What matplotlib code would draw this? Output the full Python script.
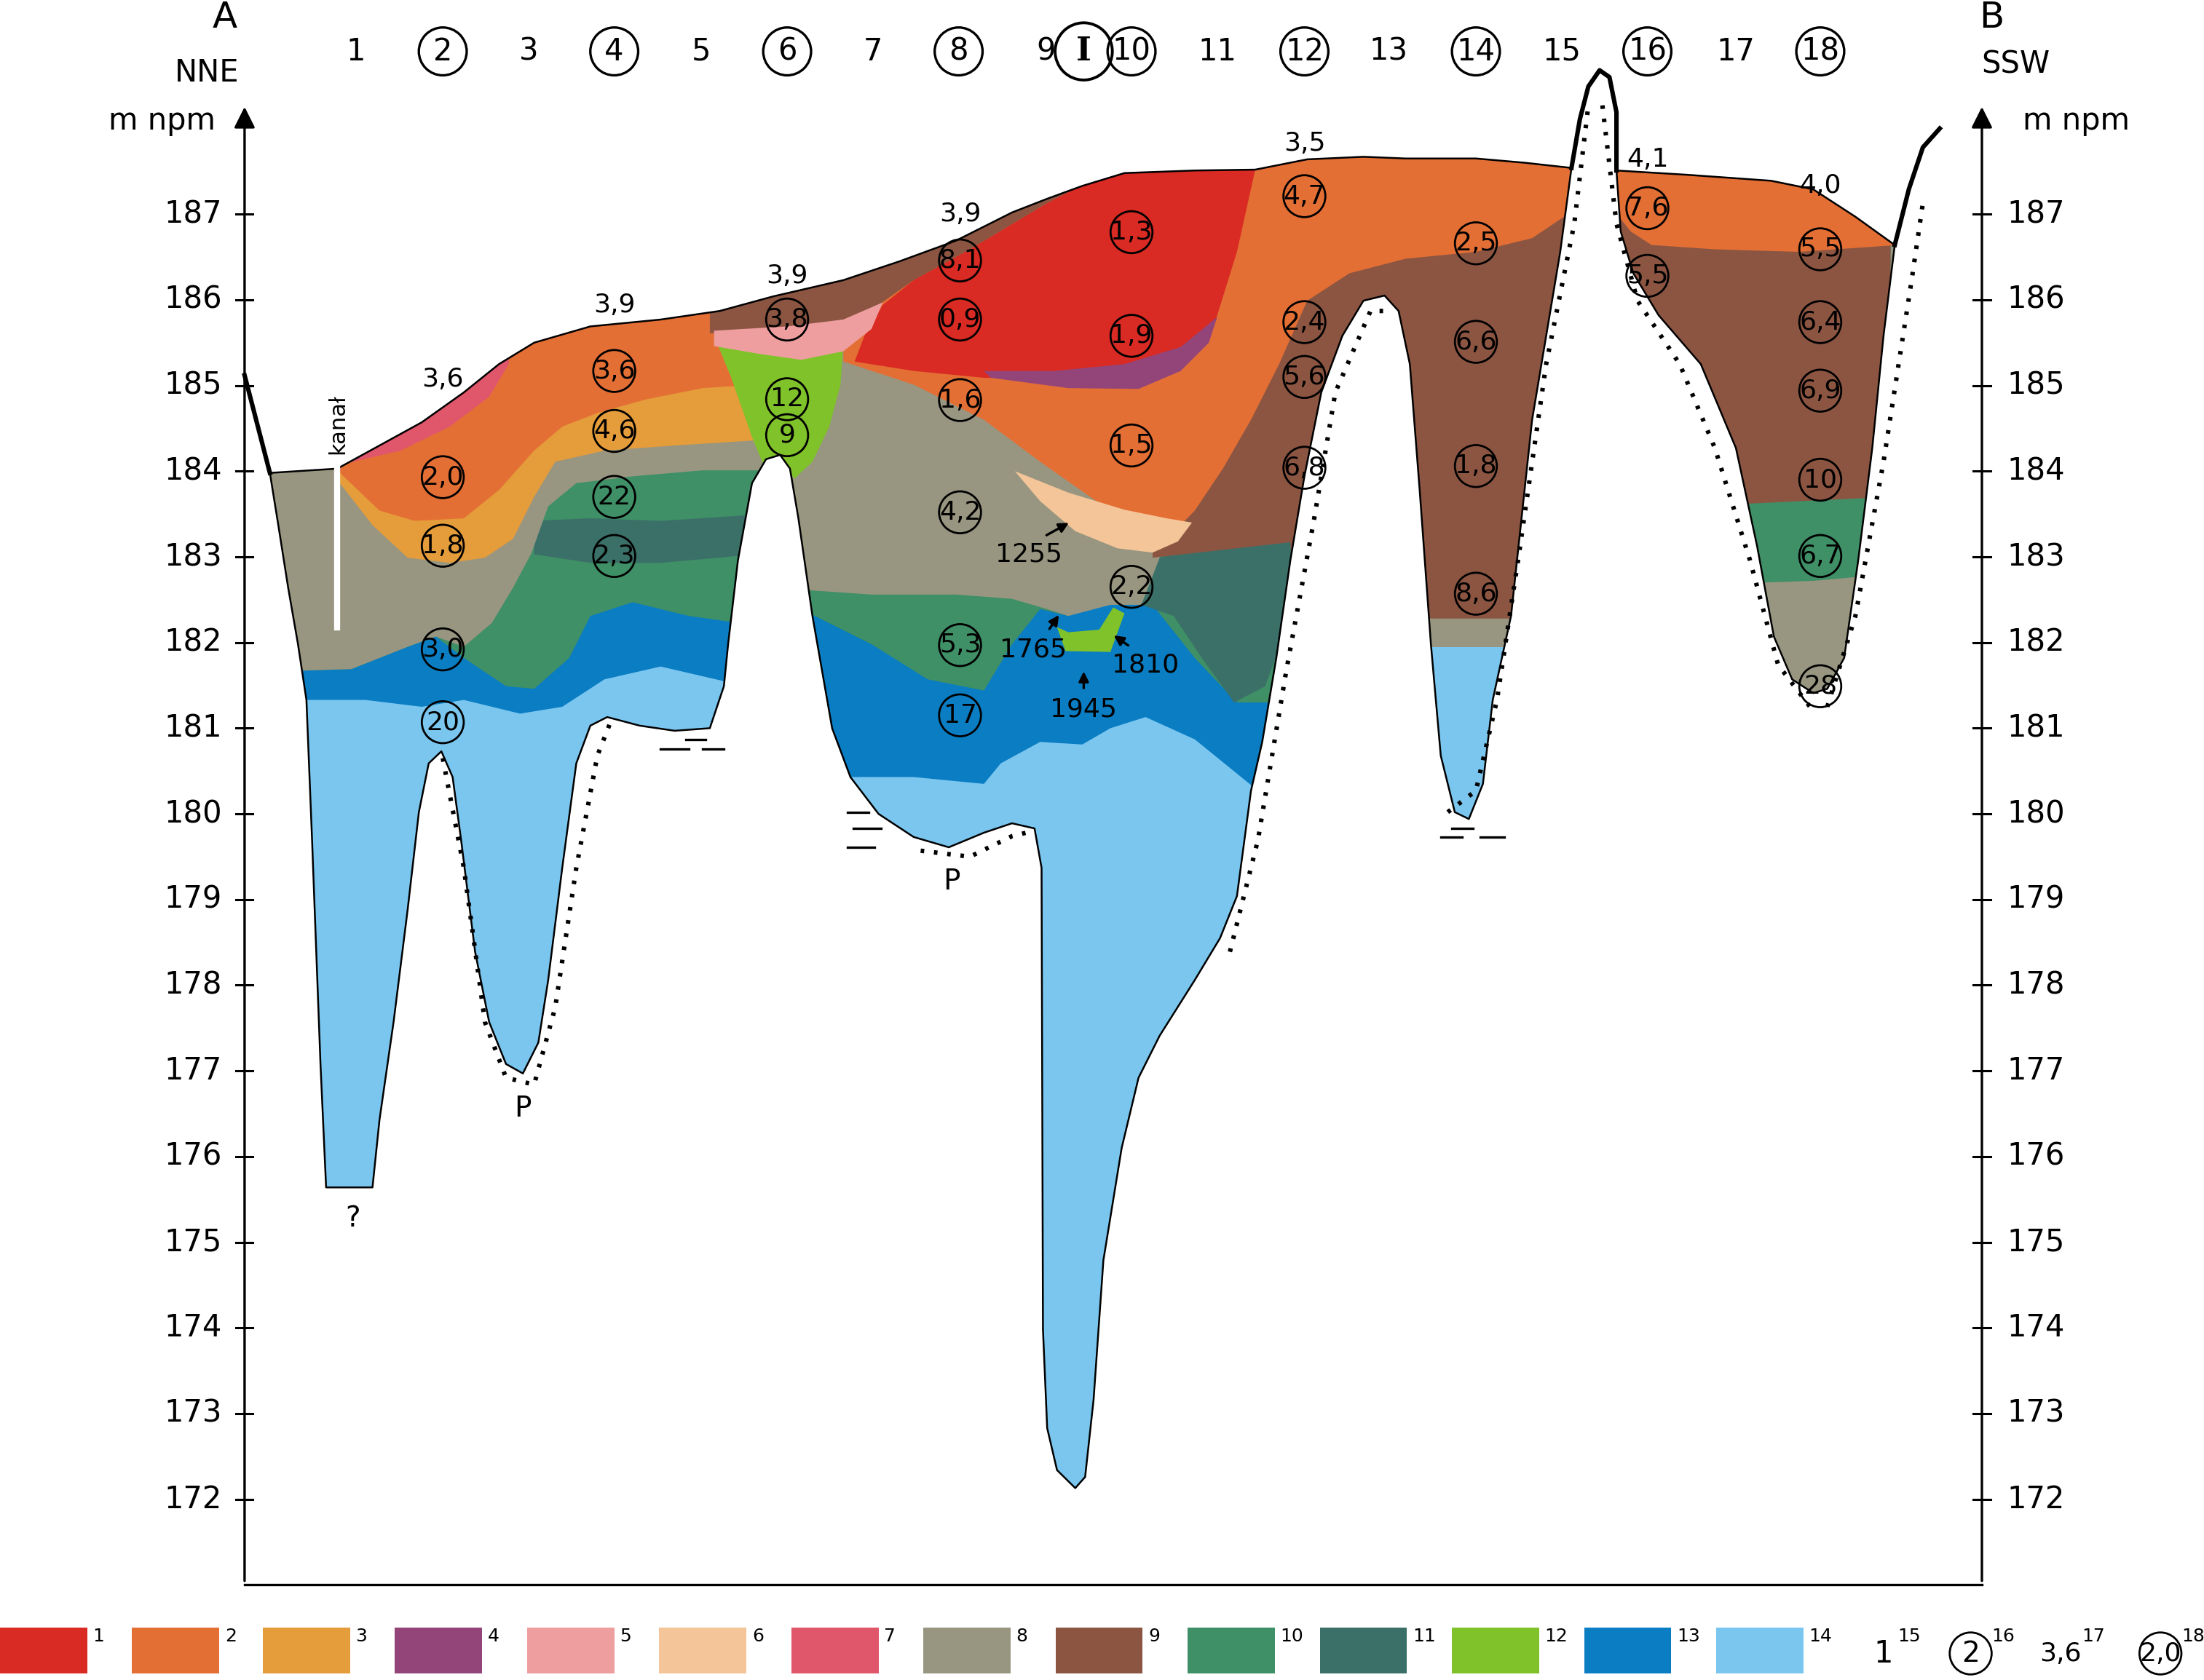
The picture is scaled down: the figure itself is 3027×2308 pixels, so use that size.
import matplotlib
matplotlib.use("Agg")
import matplotlib.pyplot as plt
from matplotlib.path import Path
from matplotlib.patches import Polygon, PathPatch

# ---------------- DATA (distance units, elevation m npm) ----------------
TOP = 189.5
outline_A = [(192,183.98),(240,184.03),(270,184.30),(300,184.57),(330,184.92),(355,185.25),(380,185.50),
 (420,185.69),(470,185.77),(512,185.87),(550,186.04),(600,186.23),(640,186.45),(680,186.69),(720,187.02),
 (745,187.18),(770,187.33),(800,187.48),(850,187.51),(893,187.52),(930,187.64),(970,187.67),(1000,187.65),
 (1050,187.65),(1085,187.60),(1118,187.54),
 (1110,186.56),(1090,184.60),(1075,182.31),(1062,181.33),(1055,180.35),(1045,179.94),(1035,180.02),
 (1025,180.68),(1018,181.98),(1010,183.78),(1003,185.25),(995,185.87),(985,186.05),(970,185.99),
 (955,185.58),(940,184.92),(928,183.94),(918,182.96),(908,181.82),(898,180.84),(890,180.27),(880,179.04),
 (868,178.55),(850,178.06),(825,177.41),(810,176.92),(798,176.10),(785,174.79),(778,173.16),(772,172.26),
 (765,172.13),(752,172.34),(745,172.83),(742,173.98),(741,179.37),(736,179.83),(720,179.89),(700,179.78),
 (675,179.61),(650,179.73),(625,180.00),(605,180.43),(592,181.00),(578,182.31),(568,183.45),(562,184.03),
 (555,184.19),(545,184.14),(535,183.86),(525,182.96),(518,181.98),(515,181.49),(505,181.00),(480,180.97),
 (455,181.03),(432,181.13),(420,181.03),(410,180.59),(400,179.37),(390,178.06),(383,177.33),(372,176.97),
 (360,177.08),(348,177.57),(338,178.39),(328,179.70),(322,180.43),(314,180.73),(305,180.59),(298,180.02),
 (290,178.88),(280,177.57),(270,176.43),(265,175.64),(232,175.64),(228,177.08),(222,179.70),(218,181.33),
 (212,181.98),(205,182.64),(198,183.37)]
outline_B = [(1150,187.51),(1200,187.46),(1260,187.39),(1290,187.29),(1320,186.97),(1348,186.64),
 (1340,185.58),(1332,184.27),(1322,182.96),(1312,181.82),(1300,181.46),(1290,181.41),(1275,181.57),
 (1262,182.07),(1250,183.13),(1235,184.27),(1210,185.25),(1180,185.82),(1162,186.31),(1153,186.80)]
peak15 = [(1118,187.54),(1124,188.11),(1130,188.49),(1138,188.68),(1145,188.60),(1150,188.19),(1150,187.51)]
right_edge = [(1348,186.64),(1358,187.29),(1368,187.78),(1380,188.00)]
left_edge = [(174,185.12),(192,183.98)]

dotted = [
 [(315,180.65),(330,179.37),(345,177.57),(360,176.92),(380,176.84),(395,177.74),(410,179.37),(425,180.68),(435,181.10)],
 [(655,179.57),(690,179.50),(720,179.74),(735,179.80)],
 [(875,178.39),(895,179.70),(915,181.66),(935,183.45),(950,184.92),(975,185.87),(990,185.87)],
 [(1030,180.02),(1050,180.27),(1065,181.33),(1080,182.96),(1100,185.25),(1120,186.89),(1130,188.27)],
 [(1140,188.27),(1150,186.89),(1165,185.99),(1195,185.25),(1220,184.27),(1245,182.96),(1265,181.74),(1290,181.20)],
 [(1300,181.25),(1320,182.31),(1340,184.11),(1360,186.23),(1368,187.13)]]

water = [[(470,180.76),(490,180.76)],[(488,180.87),(502,180.87)],[(500,180.76),(515,180.76)],
 [(603,180.02),(618,180.02)],[(607,179.83),(627,179.83)],[(603,179.61),(622,179.61)],
 [(1033,179.83),(1048,179.83)],[(1025,179.73),(1040,179.73)],[(1053,179.73),(1070,179.73)]]

def above(base):
    return base + [(base[-1][0], TOP), (base[0][0], TOP)]

C = {1:"#d92a23",2:"#e46f35",3:"#e59c3a",4:"#93457a",5:"#ef9ea0",6:"#f4c598",7:"#e0566b",
     8:"#989680",9:"#8b5542",10:"#3f8f67",11:"#3b7068",12:"#80c22a",13:"#0a7dc3",14:"#7ac6ef"}

blue_left = above([(190,181.33),(260,181.33),(300,181.25),(330,181.33),(370,181.17),(400,181.25),(430,181.57),(470,181.72),(520,181.53),(545,181.53)])
blue_mid = above([(570,180.43),(600,180.43),(650,180.43),(700,180.35),(712,180.59),(740,180.84),(770,180.81),(790,181.00),(815,181.13),(850,180.87),(895,180.27),(925,180.27)])
green_left = above([(190,181.66),(250,181.69),(290,181.95),(310,182.07),(330,181.82),(360,181.49),(380,181.46),(405,181.82),(420,182.31),(450,182.47),(490,182.31),(525,182.23),(545,182.23)])
green_mid = above([(570,182.39),(620,181.98),(660,181.57),(700,181.44),(720,181.98),(740,182.39),(760,182.31),(790,182.47),(820,182.44),(850,181.82),(880,181.30),(925,181.30)])
teal_left = [(380,183.42),(420,183.45),(470,183.42),(545,183.50),(545,183.04),(470,182.93),(420,182.93),(380,183.03)]
teal_mid = [(812,182.44),(825,182.99),(860,183.13),(925,183.24),(915,182.15),(900,181.49),(878,181.30),(855,181.82),(835,182.31)]
grey_left = above([(190,181.66),(250,181.69),(290,181.95),(310,182.07),(330,181.95),(350,182.23),(365,182.64),(378,183.04),(390,183.59),(410,183.86),(450,183.94),(500,184.01),(548,184.01)])
grey_mid = above([(550,182.64),(620,182.56),(680,182.56),(720,182.51),(745,182.39),(760,182.31),(790,182.44),(812,182.44),(825,182.99)])
grey_b14 = above([(1008,181.95),(1082,181.95)])
grey_b18 = outline_B
green_b18 = above([(1140,182.64),(1290,182.72),(1345,182.80)])
yellow_left = above([(238,183.94),(265,183.37),(290,182.99),(320,182.93),(345,182.99),(365,183.21),(380,183.70),(395,184.11),(430,184.24),(480,184.30),(548,184.37)])
brown_right = above([(820,182.99),(918,183.17),(940,177.0),(1010,177.0),(1012,182.28),(1045,182.28),(1082,182.28),(1082,177.0),(1125,177.0)])
brown_b18 = above([(1140,183.54),(1345,183.70)])
orange_left = above([(238,184.04),(270,183.54),(295,183.42),(330,183.45),(355,183.78),(380,184.24),(400,184.52),(425,184.68),(460,184.84),(500,184.97),(548,185.02)])
orange_mid = above([(600,185.28),(650,185.01),(700,184.60),(740,184.11),(780,183.65),(810,183.42),(835,183.29),(850,183.54),(870,184.03),(890,184.60),(910,185.25),(930,185.99),(960,186.31),(1000,186.48),(1050,186.56),(1090,186.72),(1120,187.05)])
orange_b18 = above([(1148,187.05),(1160,186.80),(1175,186.64),(1220,186.59),(1280,186.56),(1350,186.64)])
red = [(608,185.28),(615,185.58),(628,185.94),(650,186.23),(690,186.59),(745,187.13),(770,187.34),(770,TOP),
       (893,TOP),(893,187.52),(880,186.56),(865,185.77),(840,185.33),(800,185.12),(750,185.09),(700,185.09),(650,185.17)]
brown_strip = above([(505,185.61),(560,185.67),(600,185.77),(625,185.94),(650,186.23),(690,186.59),(745,187.13),(770,187.34)])
purple = [(700,185.17),(750,185.17),(800,185.25),(840,185.45),(866,185.80),(860,185.50),(840,185.17),(810,184.96),(760,184.97),(705,185.09)]
lime6 = [(508,185.58),(540,185.50),(570,185.41),(600,185.50),(598,185.01),(590,184.52),(578,184.11),(565,183.91),(555,184.17),(545,184.00),(535,184.40),(520,185.10)]
pink5 = [(508,185.64),(560,185.69),(600,185.77),(628,185.97),(620,185.66),(600,185.40),(570,185.30),(540,185.37),(508,185.46)]
peach = [(722,184.00),(760,183.75),(800,183.55),(830,183.45),(848,183.40),(838,183.18),(820,183.05),(795,183.10),(765,183.30),(740,183.65)]
pink7 = above([(238,184.06),(285,184.24),(320,184.52),(348,184.87),(362,185.25)])
lime_small = [(752,182.18),(758,181.90),(790,181.89),(800,182.34),(792,182.41),(782,182.15),(760,182.12)]

layers = [(13,blue_left),(13,blue_mid),(10,green_left),(10,green_mid),(11,teal_left),(11,teal_mid),
 (8,grey_left),(8,grey_mid),(8,grey_b14),(8,grey_b18),(10,green_b18),(3,yellow_left),(9,brown_right),
 (9,brown_b18),(2,orange_left),(2,orange_mid),(2,orange_b18),(1,red),(9,brown_strip),(4,purple),
 (12,lime6),(5,pink5),(6,peach),(7,pink7),(12,lime_small)]

boreholes = ["1","2","3","4","5","6","7","8","9","10","11","12","13","14","15","16","17","18"]
bh_x = [253,315,376,437,499,560,621,682,744,805,866,928,988,1050,1111,1172,1235,1295]
bh_circled = [False,True]*9

circ_labels = [
 (315,183.93,"2,0"),(315,183.13,"1,8"),(315,181.92,"3,0"),(315,181.07,"20"),
 (437,185.17,"3,6"),(437,184.47,"4,6"),(437,183.70,"22"),(437,183.01,"2,3"),
 (560,185.77,"3,8"),(560,184.84,"12"),(560,184.42,"9"),
 (683,186.46,"8,1"),(683,185.77,"0,9"),(683,184.83,"1,6"),(683,183.52,"4,2"),(683,181.97,"5,3"),(683,181.15,"17"),
 (805,186.79,"1,3"),(805,185.58,"1,9"),(805,184.30,"1,5"),(805,182.65,"2,2"),
 (928,187.21,"4,7"),(928,185.74,"2,4"),(928,185.10,"5,6"),(928,184.04,"6,8"),
 (1050,186.66,"2,5"),(1050,185.51,"6,6"),(1050,184.06,"1,8"),(1050,182.57,"8,6"),
 (1172,187.07,"7,6"),(1172,186.28,"5,5"),
 (1295,186.59,"5,5"),(1295,185.74,"6,4"),(1295,184.94,"6,9"),(1295,183.90,"10"),(1295,183.01,"6,7"),(1295,181.49,"28")]
thick_labels = [(315,185.07,"3,6"),(437,185.94,"3,9"),(560,186.28,"3,9"),(683,187.00,"3,9"),
 (928,187.83,"3,5"),(1172,187.64,"4,1"),(1295,187.33,"4,0")]
dates = [("1255",732,183.03,763,183.42),("1765",735,181.92,755,182.36),("1810",815,181.74,790,182.11),("1945",771,181.22,771,181.71)]

elev_ticks = list(range(172,188))
legend_ids = list(range(1,15))
legend_x = [0,94,187,281,375,469,563,657,751,845,939,1033,1127,1221]

# ---------------- PLOT ----------------
fig = plt.figure(figsize=(15.135,11.54), dpi=200)
ax = fig.add_axes([0,0,1,1])
ax.set_xlim(0,1568); ax.set_ylim(169.89,189.5); ax.axis("off")

clip = Path.make_compound_path(Path(outline_A+[outline_A[0]], closed=True), Path(outline_B+[outline_B[0]], closed=True))
base = PathPatch(clip, facecolor=C[14], edgecolor="none", zorder=1)
ax.add_patch(base)
for cid, poly in layers:
    p = Polygon(poly, closed=True, facecolor=C[cid], edgecolor="none", zorder=2)
    ax.add_patch(p); p.set_clip_path(base)

for ol in (outline_A, outline_B):
    xs=[p[0] for p in ol]+[ol[0][0]]; ys=[p[1] for p in ol]+[ol[0][1]]
    ax.plot(xs, ys, color="black", lw=0.9, zorder=4)
for ln, lw in ((peak15,2.2),(right_edge,2.2),(left_edge,2.2)):
    ax.plot([p[0] for p in ln],[p[1] for p in ln],color="black",lw=lw,zorder=4)
for d in dotted:
    ax.plot([p[0] for p in d],[p[1] for p in d],color="black",lw=2.2,ls=(0,(0.8,2.2)),zorder=4)
for w in water:
    ax.plot([p[0] for p in w],[p[1] for p in w],color="black",lw=1.2,zorder=4)

ax.plot([240,240],[184.08,182.18],color="white",lw=3,zorder=5)
ax.text(240,184.55,"kanał",rotation=90,ha="center",va="center",fontsize=11,zorder=6)

fs=13
for x,y,t in circ_labels:
    ax.scatter([x],[y],s=430,facecolors="none",edgecolors="black",linewidths=1.0,zorder=6)
    ax.text(x,y,t,ha="center",va="center",fontsize=fs,zorder=7)
for x,y,t in thick_labels:
    ax.text(x,y,t,ha="center",va="center",fontsize=fs,zorder=7)
for t,x,y,ax2,ay2 in dates:
    ax.annotate("",xy=(ax2,ay2),xytext=(x+ (10 if ax2>x else (-10 if ax2<x else 0)), y+0.2),
                arrowprops=dict(arrowstyle="-|>",color="black",lw=1.2),zorder=7)
    ax.text(x,y,t,ha="center",va="center",fontsize=fs,zorder=7)
for x,y,t in [(372,176.56,"P"),(677,179.21,"P"),(251,175.28,"?")]:
    ax.text(x,y,t,ha="center",va="center",fontsize=fs+1,zorder=7)

for x,t,c in zip(bh_x,boreholes,bh_circled):
    ax.text(x,188.90,t,ha="center",va="center",fontsize=15)
    if c:
        ax.scatter([x],[188.90],s=560,facecolors="none",edgecolors="black",linewidths=1.2)
ax.text(771,188.90,"I",ha="center",va="center",fontsize=16,fontweight="bold",family="DejaVu Serif")
ax.scatter([771],[188.90],s=800,facecolors="none",edgecolors="black",linewidths=1.4)

for xa in (174,1410):
    ax.annotate("",xy=(xa,188.30),xytext=(xa,171.0),arrowprops=dict(arrowstyle="-|>",color="black",lw=1.2,mutation_scale=22))
ax.plot([174,1410],[171.0,171.0],color="black",lw=1.2)
for e in elev_ticks:
    ax.plot([168,180],[e,e],color="black",lw=1.1)
    ax.plot([1404,1416],[e,e],color="black",lw=1.1)
    ax.text(158,e,str(e),ha="right",va="center",fontsize=15)
    ax.text(1428,e,str(e),ha="left",va="center",fontsize=15)
ax.text(160,189.30,"A",ha="center",va="center",fontsize=18)
ax.text(147,188.65,"NNE",ha="center",va="center",fontsize=15)
ax.text(115,188.09,"m npm",ha="center",va="center",fontsize=15)
ax.text(1417,189.30,"B",ha="center",va="center",fontsize=18)
ax.text(1434,188.75,"SSW",ha="center",va="center",fontsize=15)
ax.text(1477,188.09,"m npm",ha="center",va="center",fontsize=15)

for i,x in zip(legend_ids,legend_x):
    ax.add_patch(plt.Rectangle((x,169.97),62,0.53,facecolor=C[i],edgecolor="none"))
    ax.text(x+66,170.40,str(i),ha="left",va="center",fontsize=9)
ax.text(1340,170.20,"1",ha="center",va="center",fontsize=15)
ax.text(1350,170.40,"15",ha="left",va="center",fontsize=9)
ax.text(1402,170.20,"2",ha="center",va="center",fontsize=14)
ax.scatter([1402],[170.20],s=430,facecolors="none",edgecolors="black",linewidths=1.0)
ax.text(1417,170.40,"16",ha="left",va="center",fontsize=9)
ax.text(1466,170.20,"3,6",ha="center",va="center",fontsize=13)
ax.text(1481,170.40,"17",ha="left",va="center",fontsize=9)
ax.text(1537,170.20,"2,0",ha="center",va="center",fontsize=13)
ax.scatter([1537],[170.20],s=430,facecolors="none",edgecolors="black",linewidths=1.0)
ax.text(1552,170.40,"18",ha="left",va="center",fontsize=9)

fig.savefig("out.png",dpi=200)
